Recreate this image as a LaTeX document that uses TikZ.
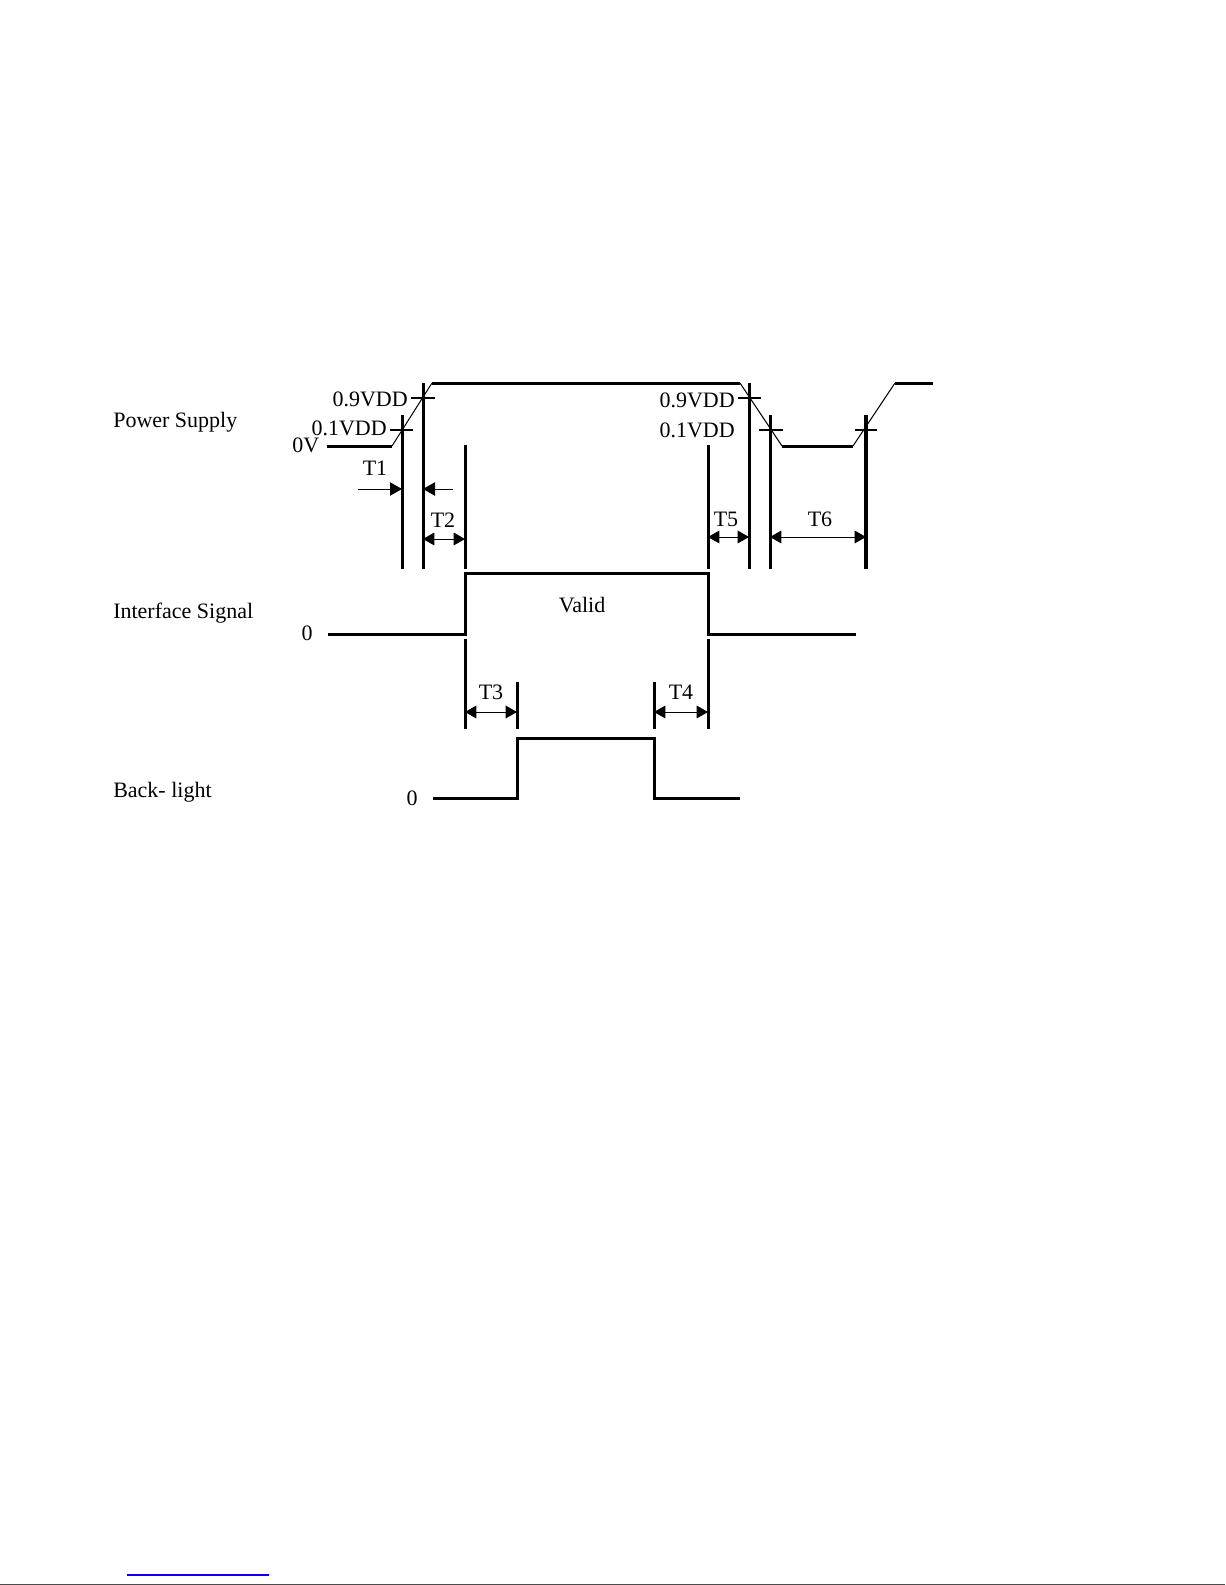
\documentclass[tikz,border=0pt]{standalone}
\usepackage{fontspec}
\setmainfont{Liberation Serif}
\usetikzlibrary{arrows.meta}
\begin{document}
\begin{tikzpicture}[x=0.75pt,y=-0.75pt,
  thick line/.style={line width=2.25pt},
  thin line/.style={line width=0.75pt},
  dimline/.style={line width=2.25pt},
  tickline/.style={line width=2pt},
  headtip/.style={-{Triangle[length=9pt,width=10pt]}},
  dimboth/.style={line width=0.75pt,{Triangle[length=8.5pt,width=9.5pt]}-{Triangle[length=8.5pt,width=9.5pt]}},
  lbl/.style={inner sep=0pt,font=\fontsize{16.5}{18}\selectfont},
]
\useasboundingbox (0,0) rectangle (1225,1585);
\fill[white] (0,0) rectangle (1225,1585);

% labels
\node[lbl,anchor=base west] (ps) at (113,427) {Power Supply};
\node[lbl,anchor=base west] (is) at (113,618) {Interface Signal};
\node[lbl,anchor=base west] (bl) at (113,797) {Back- light};
\node[lbl,anchor=base east] (v9a) at (408,406) {0.9VDD};
\node[lbl,anchor=base east] (v1a) at (387,435) {0.1VDD};
\node[lbl,anchor=base west] (ov) at (292,452) {0V};
\node[lbl,anchor=base east] (v9b) at (735,407) {0.9VDD};
\node[lbl,anchor=base east] (v1b) at (735,437) {0.1VDD};
\node[lbl,anchor=base] (t1) at (375,475) {T1};
\node[lbl,anchor=base] (t2) at (443,527) {T2};
\node[lbl,anchor=base] (t5) at (726,526) {T5};
\node[lbl,anchor=base] (t6) at (820,526) {T6};
\node[lbl,anchor=base] (valid) at (582,612) {Valid};
\node[lbl,anchor=base] (t3) at (491,699) {T3};
\node[lbl,anchor=base] (t4) at (681,699) {T4};
\node[lbl,anchor=base] (z1) at (307,640) {0};
\node[lbl,anchor=base] (z2) at (412,805) {0};

% power supply waveform
\coordinate (p0) at (327,446);
\coordinate (p1) at (392,446);
\coordinate (p2) at (432,383);
\coordinate (p3) at (740,383);
\coordinate (p4) at (782,446);
\coordinate (p5) at (853,446);
\coordinate (p6) at (895,383);
\coordinate (p7) at (933,383);
\draw[thick line] (p0) -- (p1);
\draw[thin line] (p1) -- (p2);
\draw[thick line] (p2) -- (p3);
\draw[thin line] (p3) -- (p4);
\draw[thick line] (p4) -- (p5);
\draw[thin line] (p5) -- (p6);
\draw[thick line] (p6) -- (p7);

% ticks
\draw[tickline] (390,430) -- (413,430);
\draw[tickline] (411,398) -- (435,398);
\draw[tickline] (738,398) -- (761,398);
\draw[tickline] (759,430) -- (783,430);
\draw[tickline] (855,430) -- (877,430);

% vertical dimension lines
\coordinate (a1) at (402,415);  \coordinate (b1) at (402,569);
\coordinate (a2) at (423,383);  \coordinate (b2) at (423,569);
\coordinate (a3) at (465,445);  \coordinate (b3) at (465,569);
\coordinate (a4) at (708,445);  \coordinate (b4) at (708,569);
\coordinate (a5) at (749,383);  \coordinate (b5) at (749,569);
\coordinate (a6) at (770,415);  \coordinate (b6) at (770,569);
\coordinate (a7) at (866,415);  \coordinate (b7) at (866,569);
\draw[dimline] (a1) -- (b1);
\draw[dimline] (a2) -- (b2);
\draw[dimline] (a3) -- (b3);
\draw[dimline] (a4) -- (b4);
\draw[dimline] (a5) -- (b5);
\draw[dimline] (a6) -- (b6);
\draw[line width=3pt] (a7) -- (b7);

\coordinate (c3) at (465,639);  \coordinate (d3) at (465,729);
\coordinate (c4) at (708,639);  \coordinate (d4) at (708,729);
\coordinate (c8) at (517,682);  \coordinate (d8) at (517,729);
\coordinate (c9) at (654,682);  \coordinate (d9) at (654,729);
\draw[dimline] (c3) -- (d3);
\draw[dimline] (c4) -- (d4);
\draw[dimline] (c8) -- (d8);
\draw[dimline] (c9) -- (d9);

% dimension arrows
\coordinate (t1l) at (358,489);
\coordinate (t1r) at (453,489);
\draw[line width=0.75pt,headtip] (t1l) -- (402,489);
\draw[line width=0.75pt,headtip] (t1r) -- (423,489);
\draw[dimboth] (423,539) -- (465,539);
\draw[dimboth] (708,537) -- (749,537);
\draw[dimboth] (770,537) -- (866,537);
\draw[dimboth] (465,712) -- (517,712);
\draw[dimboth] (654,712) -- (708,712);

% interface signal
\coordinate (i0) at (328,634);
\coordinate (i1) at (465,634);
\coordinate (i2) at (465,573);
\coordinate (i3) at (708,573);
\coordinate (i4) at (708,634);
\coordinate (i5) at (856,634);
\draw[thick line] (i0) -- (i1) -- (i2) -- (i3) -- (i4) -- (i5);

% back-light
\coordinate (k0) at (433,798);
\coordinate (k1) at (517,798);
\coordinate (k2) at (517,738);
\coordinate (k3) at (654,738);
\coordinate (k4) at (654,798);
\coordinate (k5) at (740,798);
\draw[thick line] (k0) -- (k1) -- (k2) -- (k3) -- (k4) -- (k5);

% page bottom marks
\coordinate (u0) at (127,1575);
\coordinate (u1) at (269,1575);
\draw[blue,line width=1.3pt] (u0) -- (u1);
\coordinate (e0) at (0,1584.3);
\coordinate (e1) at (1225,1584.3);
\draw[black!70,line width=1pt] (e0) -- (e1);
\end{tikzpicture}
\end{document}
